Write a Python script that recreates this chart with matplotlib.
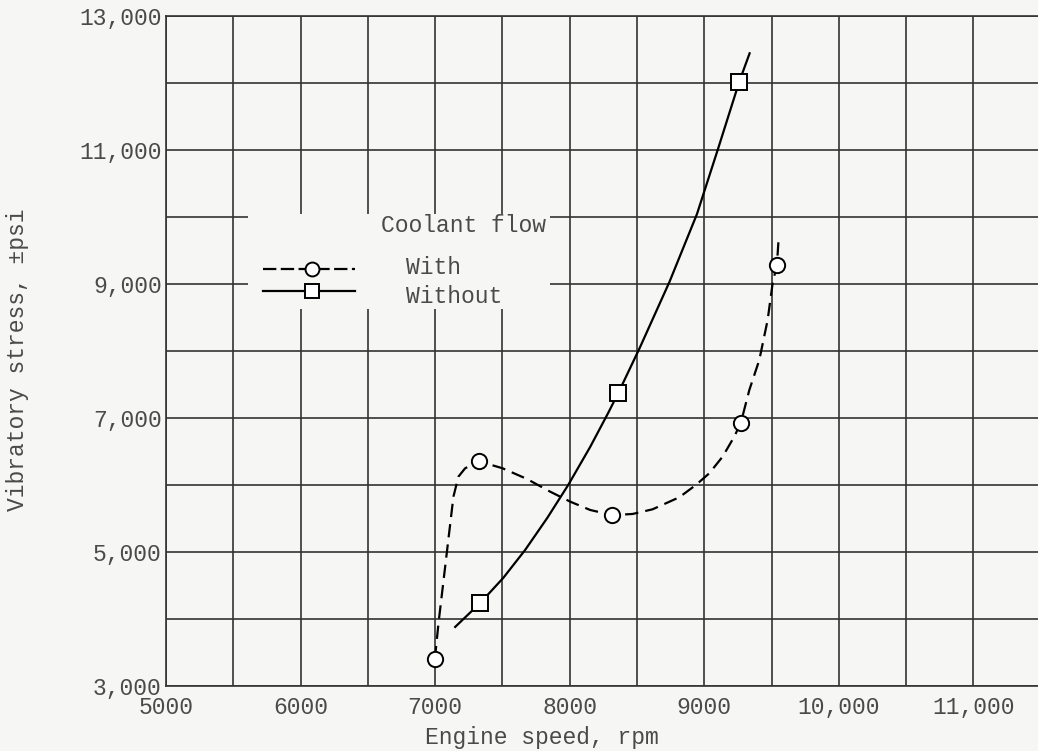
import matplotlib
matplotlib.use("Agg")
import matplotlib.pyplot as plt
from matplotlib.lines import Line2D
from matplotlib.patches import Rectangle

# ---- data ----
with_x = [6998, 7327, 8316, 9272, 9540]
with_y = [3399, 6358, 5550, 6930, 9290]
without_x = [7335, 8361, 9260]
without_y = [4239, 7373, 12019]

# faired curves, points
with_curve_x = [6998, 7025, 7136, 7173, 7223, 7327, 7417, 7500, 7682, 7855, 8004,
                8152, 8316, 8467, 8616, 8814, 8938, 9037, 9136, 9223, 9272,
                9335, 9409, 9471, 9508, 9540, 9552]
with_curve_y = [3399, 3936, 5825, 6124, 6249, 6358, 6299, 6250, 6090, 5900, 5751,
                5627, 5550, 5567, 5637, 5816, 6000, 6174, 6422, 6721, 6930,
                7418, 7866, 8463, 9010, 9290, 9657]
without_curve_x = [7149, 7335, 7506, 7669, 7833, 7989, 8152, 8286, 8361, 8519, 8742,
                   8946, 9106, 9260, 9337]
without_curve_y = [3881, 4239, 4612, 5030, 5507, 6000, 6567, 7075, 7373, 8040, 9034,
                   10045, 11040, 12019, 12443]

x_ticks = [5000, 6000, 7000, 8000, 9000, 10000, 11000]
x_ticklabels = ["5000", "6000", "7000", "8000", "9000", "10,000", "11,000"]
y_ticks = [3000, 5000, 7000, 9000, 11000, 13000]
y_ticklabels = ["3,000", "5,000", "7,000", "9,000", "11,000", "13,000"]

xlabel = "Engine speed, rpm"
ylabel = "Vibratory stress, \u00b1psi"
legend_title = "Coolant flow"
series_names = ["With", "Without"]

# ---- style ----
FONT = ["Liberation Mono", "DejaVu Sans Mono"]
TXT = "#4a4a4a"
GRID = "#333333"
BG = "#f6f6f4"
FS = 16.6

fig = plt.figure(figsize=(10.38, 7.51), dpi=100)
fig.patch.set_facecolor(BG)
ax = fig.add_axes([0.1599, 0.0866, 0.8401, 0.8921])
ax.set_facecolor(BG)
ax.set_xlim(5000, 11480)
ax.set_ylim(3000, 13000)

# grid
for gx in range(5000, 11500, 500):
    ax.axvline(gx, color=GRID, lw=1.2, zorder=1)
for gy in range(3000, 13001, 1000):
    ax.axhline(gy, color=GRID, lw=1.2, zorder=1)

ax.spines["right"].set_visible(False)
for s in ["left", "bottom", "top"]:
    ax.spines[s].set_color(GRID)
    ax.spines[s].set_linewidth(1.2)

ax.set_xticks(x_ticks)
ax.set_xticklabels(x_ticklabels, family=FONT, fontsize=FS, color=TXT)
ax.set_yticks(y_ticks)
ax.set_yticklabels(y_ticklabels, family=FONT, fontsize=FS, color=TXT)
ax.tick_params(axis="both", length=0)
ax.tick_params(axis="x", pad=7)
ax.tick_params(axis="y", pad=3)
ax.set_xlabel(xlabel, family=FONT, fontsize=FS, color=TXT)
ax.set_ylabel(ylabel, family=FONT, fontsize=FS, color=TXT)
ax.xaxis.set_label_coords(0.4314, -0.0776)
ax.yaxis.set_label_coords(-0.170, 0.4866)
ax.xaxis.label.set_va("center")
ax.yaxis.label.set_va("center")

# curves
dash = (0, (6, 3.2))
ax.plot(with_curve_x, with_curve_y, color="black", lw=1.6, linestyle=dash, zorder=3)
ax.plot(without_curve_x, without_curve_y, color="black", lw=1.6, zorder=3)
ax.plot(with_x, with_y, linestyle="none", marker="o", ms=11, mfc="white",
        mec="black", mew=1.4, zorder=4)
ax.plot(without_x, without_y, linestyle="none", marker="s", ms=11, mfc="white",
        mec="black", mew=1.4, zorder=4)

# legend box (manual)
ax.add_patch(Rectangle((0.0941, 0.5627), 0.3465, 0.1418, transform=ax.transAxes,
                       facecolor=BG, edgecolor="none", zorder=2))
ax.text(0.3407, 0.6866, legend_title, transform=ax.transAxes, family=FONT,
        fontsize=FS, color=TXT, ha="center", va="center", zorder=5)
ax.add_line(Line2D([0.1113, 0.2168], [0.6224, 0.6224], transform=ax.transAxes,
                   color="black", lw=1.6, linestyle=(0, (6, 2)), zorder=5))
ax.add_line(Line2D([0.1675], [0.6224], transform=ax.transAxes, marker="o", ms=10,
                   mfc="white", mec="black", mew=1.4, zorder=6))
ax.add_line(Line2D([0.1113, 0.2168], [0.5896, 0.5896], transform=ax.transAxes,
                   color="black", lw=1.6, zorder=5))
ax.add_line(Line2D([0.1675], [0.5896], transform=ax.transAxes, marker="s", ms=10,
                   mfc="white", mec="black", mew=1.4, zorder=6))
ax.text(0.2754, 0.6240, series_names[0], transform=ax.transAxes, family=FONT,
        fontsize=FS, color=TXT, ha="left", va="center", zorder=5)
ax.text(0.2754, 0.5806, series_names[1], transform=ax.transAxes, family=FONT,
        fontsize=FS, color=TXT, ha="left", va="center", zorder=5)

fig.savefig("out.png", dpi=100, facecolor=fig.get_facecolor())
